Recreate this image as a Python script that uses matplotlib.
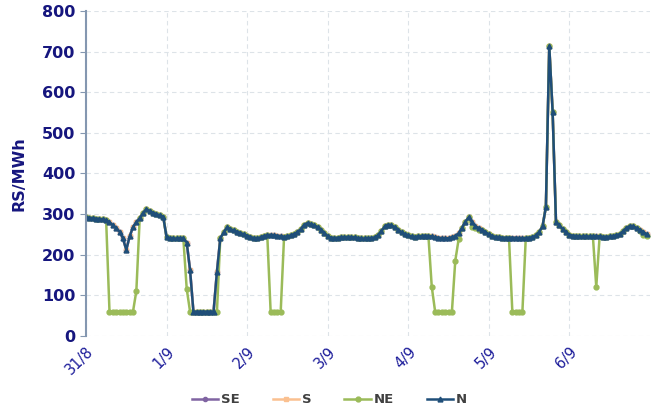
import matplotlib
matplotlib.use("Agg")
import matplotlib.pyplot as plt
import numpy as np

plt.rcParams["font.family"] = "DejaVu Sans"

# hourly prices, 31/8 00h .. 6/9 23h
day_labels = ["31/8", "1/9", "2/9", "3/9", "4/9", "5/9", "6/9"]

n_price = [
    292, 291, 290, 289, 288, 287, 285, 280, 273, 265, 257, 240, 212, 245, 268, 280, 290, 303, 312, 308, 303, 300, 297, 294,
    243, 241, 240, 240, 240, 240, 230, 162, 60, 60, 60, 60, 60, 60, 60, 158, 240, 255, 267, 263, 260, 256, 254, 250,
    247, 244, 241, 240, 243, 246, 248, 249, 248, 247, 246, 244, 245, 248, 251, 256, 263, 274, 278, 275, 272, 268, 262, 253,
    246, 242, 241, 242, 243, 243, 244, 243, 243, 241, 240, 240, 240, 241, 243, 248, 258, 270, 274, 272, 268, 262, 255, 250,
    248, 245, 244, 245, 246, 247, 246, 245, 243, 242, 241, 240, 241, 243, 246, 253, 266, 281, 292, 280, 270, 266, 262, 256,
    250, 246, 244, 243, 242, 242, 242, 242, 242, 241, 241, 241, 242, 243, 248, 256, 270, 318, 713, 552, 281, 272, 263, 255,
    249, 247, 246, 245, 245, 245, 245, 245, 246, 245, 244, 244, 245, 246, 248, 251, 258, 266, 271, 270, 266, 261, 256, 251,
]

ne_price = [
    292, 291, 290, 289, 288, 287, 285, 60, 60, 60, 60, 60, 60, 60, 60, 111, 290, 303, 312, 308, 303, 300, 297, 294,
    243, 241, 240, 240, 240, 240, 116, 60, 60, 60, 60, 60, 60, 60, 60, 60, 240, 255, 267, 263, 260, 256, 254, 250,
    247, 244, 241, 240, 243, 246, 248, 60, 60, 60, 60, 244, 245, 248, 251, 256, 263, 274, 278, 275, 272, 268, 262, 253,
    246, 242, 241, 242, 243, 243, 244, 243, 243, 241, 240, 240, 240, 241, 243, 248, 258, 270, 274, 272, 268, 262, 255, 250,
    248, 245, 244, 245, 246, 247, 246, 121, 60, 60, 60, 60, 60, 60, 185, 238, 266, 281, 292, 269, 265, 262, 260, 256,
    250, 246, 244, 243, 242, 242, 242, 60, 60, 60, 60, 241, 242, 243, 248, 256, 270, 318, 713, 552, 281, 272, 263, 255,
    249, 247, 246, 245, 245, 245, 245, 245, 121, 245, 244, 244, 245, 246, 248, 251, 258, 266, 271, 270, 266, 258, 249, 245,
]

# SE and S are hidden under N in the reference
se_price = list(n_price)
s_price = list(n_price)

hours = np.arange(len(n_price))

navy = "#16167e"

fig = plt.figure(figsize=(6.59, 4.12), dpi=100)
ax = fig.add_axes([0.1305, 0.1845, 0.8558, 0.789])

ax.plot(hours, se_price, color="#8064a2", marker="o", ms=3, lw=1.8, label="SE")
ax.plot(hours, s_price, color="#fac090", marker="s", ms=3, lw=1.8, label="S")
ax.plot(hours, ne_price, color="#9bbb59", marker="o", ms=3.5, lw=1.8, label="NE")
ax.plot(hours, n_price, color="#1f4e79", marker="^", ms=3.5, lw=1.8, label="N")

ax.set_xlim(0, 168)
ax.set_ylim(0, 800)
ax.set_yticks(range(0, 801, 100))
ax.set_xticks(np.arange(0, 168, 24))
ax.set_xticklabels(day_labels, rotation=45, ha="right", va="top",
                   rotation_mode="anchor", color="#1c1c9a", fontsize=10.5)

for lbl in ax.get_yticklabels():
    lbl.set_fontweight("bold")
ax.tick_params(axis="y", length=4, color="#8497b0", labelcolor=navy, labelsize=11.5)
ax.tick_params(axis="x", length=0, pad=6)

ax.grid(True, color="#dde3e8", linestyle=(0, (4, 3)), linewidth=0.8)
ax.set_axisbelow(True)

for s in ["top", "right", "bottom"]:
    ax.spines[s].set_visible(False)
ax.spines["left"].set_color("#8497b0")
ax.spines["left"].set_linewidth(1.5)

ax.set_ylabel("RS/MWh", color=navy, fontsize=11.5, fontweight="bold", labelpad=11)

fig.legend(loc="center", bbox_to_anchor=(0.5, 0.03), ncol=4, frameon=False,
           prop={"weight": "bold", "size": 9.5}, labelcolor="#404040",
           columnspacing=2.5, handlelength=2, handletextpad=0.2)

fig.savefig("out.png", dpi=100)
